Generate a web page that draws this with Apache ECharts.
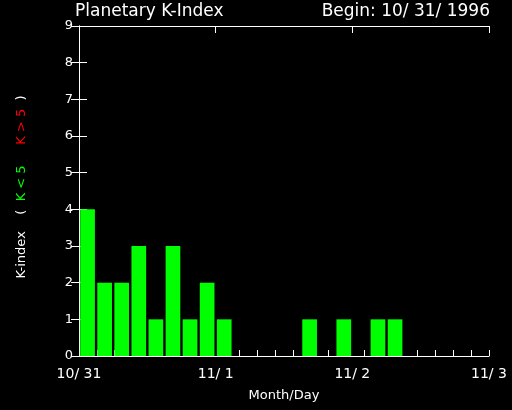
<!DOCTYPE html>
<html><head><meta charset="utf-8">
<style>html,body{margin:0;padding:0;background:#000;}#c{width:512px;height:410px;}</style>
<script src="https://cdn.jsdelivr.net/npm/echarts@6/dist/echarts.min.js"></script>
</head><body><div id="c"></div>
<script>
// 3-hour bins from 10/31 00UT through 11/02 21UT
var bins = ['0','1','2','3','4','5','6','7','8','9','10','11','12','13','14','15','16','17','18','19','20','21','22','23'];
var kValues = [4,2,2,3,1,3,1,2,1,0,0,0,0,1,0,1,0,1,1,0,0,0,0,0];
var dayLabels = ['10/ 31','11/ 1','11/ 2','11/ 3'];
var yTicks = [0,1,2,3,4,5,6,7,8,9];

var chart = echarts.init(document.getElementById('c'));
var font = 'DejaVu Sans';
chart.setOption({
  backgroundColor: '#000',
  animation: false,
  grid: {left: 79, right: 23, top: 26, bottom: 54},
  xAxis: [
    {type: 'category', data: bins, boundaryGap: true, axisLine: {show: false}, axisTick: {show: false}, axisLabel: {show: false}},
    {type: 'value', min: 0, max: 23, interval: 1, position: 'bottom',
     axisLine: {show: true, lineStyle: {color: '#fff', width: 1}},
     axisTick: {show: true, inside: true, length: 6, lineStyle: {color: '#fff'}},
     axisLabel: {show: false}, splitLine: {show: false}},
    {type: 'value', min: 0, max: 3, interval: 1, position: 'bottom',
     axisLine: {show: false}, axisTick: {show: false}, splitLine: {show: false},
     axisLabel: {show: true, color: '#fff', fontFamily: font, fontSize: 14, margin: 11,
       showMinLabel: true, showMaxLabel: true,
       formatter: function(v){ return dayLabels[Math.round(v)]; }},
     name: 'Month/Day', nameLocation: 'middle', nameGap: 33,
     nameTextStyle: {color: '#fff', fontFamily: font, fontSize: 13}},
    {type: 'value', min: 0, max: 3, interval: 1, position: 'top',
     axisLine: {show: true, lineStyle: {color: '#fff', width: 1}},
     axisTick: {show: true, inside: true, length: 7, lineStyle: {color: '#fff'}},
     axisLabel: {show: false}, splitLine: {show: false}}
  ],
  yAxis: [
    {type: 'value', min: 0, max: 9, interval: 1, position: 'left',
     axisLine: {show: true, lineStyle: {color: '#fff', width: 1}},
     axisTick: {show: true, inside: true, length: 8, lineStyle: {color: '#fff'}},
     axisLabel: {color: '#fff', fontFamily: font, fontSize: 13, margin: 6,
       formatter: function(v){ return yTicks.indexOf(v) >= 0 ? String(v) : ''; }},
     splitLine: {show: false}},
    {type: 'value', min: 0, max: 9, interval: 1, position: 'right',
     axisLine: {show: true, lineStyle: {color: '#fff', width: 1}},
     axisTick: {show: true, inside: true, length: 8, lineStyle: {color: '#fff'}},
     axisLabel: {show: false}, splitLine: {show: false}}
  ],
  series: [{
    type: 'bar', xAxisIndex: 0, yAxisIndex: 0, data: kValues,
    barCategoryGap: '14%', itemStyle: {color: '#00ff00'}, z: 5
  }],
  graphic: [
    {type: 'text', left: 75, top: 3, style: {text: 'Planetary K-Index', fill: '#fff', font: '17px "DejaVu Sans"'}},
    {type: 'text', right: 22, top: 3, style: {text: 'Begin: 10/ 31/ 1996', fill: '#fff', font: '17px "DejaVu Sans"'}},
    {type: 'text', x: 22, y: 187, rotation: Math.PI/2,
     style: {
       text: '{w|K-index    (}{g|  K < 5}{s|     }{r|K > 5  }{w|)}',
       align: 'center', verticalAlign: 'middle',
       rich: {
         w: {fill: '#fff', font: '13px "DejaVu Sans"'},
         g: {fill: '#00ff00', font: '13px "DejaVu Sans"'},
         r: {fill: '#ff0000', font: '13px "DejaVu Sans"'},
         s: {font: '13px "DejaVu Sans"'}
       }
     }}
  ]
});
</script></body></html>
